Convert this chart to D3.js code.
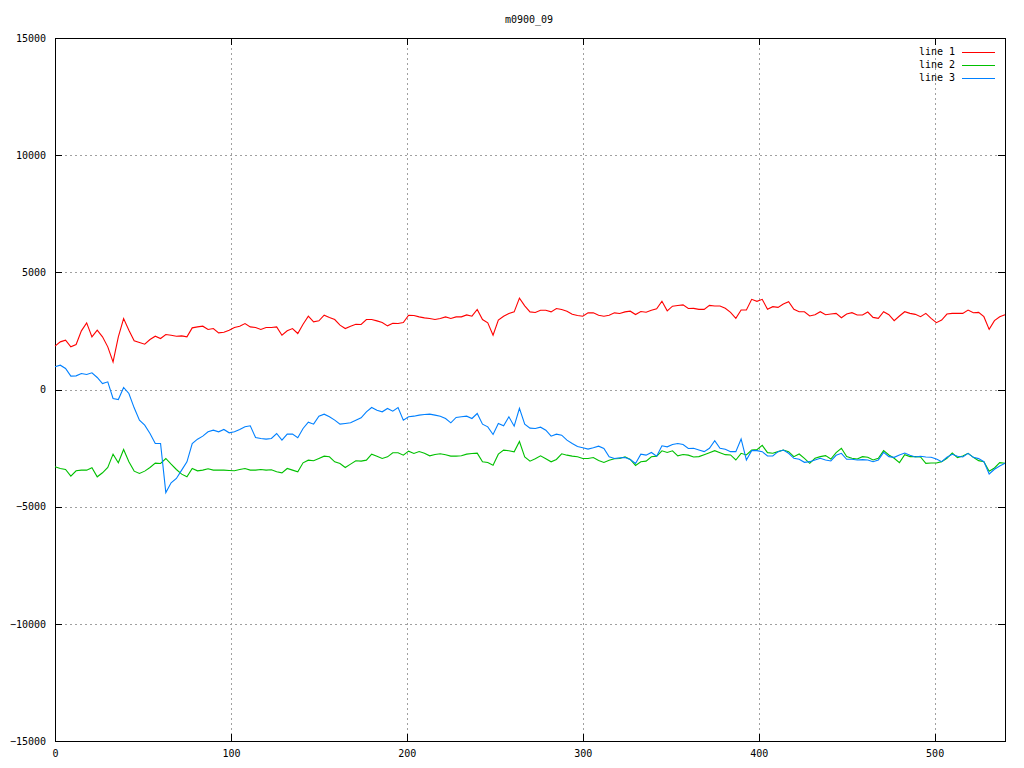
<!DOCTYPE html>
<html>
<head>
<meta charset="utf-8">
<script src="https://cdn.jsdelivr.net/npm/d3@7"></script>
<style>
  html, body { margin: 0; padding: 0; background: #fff; }
  svg { display: block; }
  text { font-family: "DejaVu Sans Mono", monospace; font-size: 10px; fill: #000; }
</style>
</head>
<body>
<svg id="chart" width="1024" height="768"></svg>
<script>
const titleText = "m0900_09";
const seriesNames = ["line 1", "line 2", "line 3"];
const seriesColors = ["#ff0000", "#00c000", "#0080ff"];
const xTicks = [0, 100, 200, 300, 400, 500];
const yTicks = [-15000, -10000, -5000, 0, 5000, 10000, 15000];
const xDomain = [0, 540];
const yDomain = [-15000, 15000];

const xs = [0,3,6,9,12,15,18,21,24,27,30,33,36,39,42,45,48,51,54,57,60,63,66,69,72,75,78,81,84,87,90,93,96,99,102,105,108,111,114,117,120,123,126,129,132,135,138,141,144,147,150,153,156,159,162,165,168,171,174,177,180,183,186,189,192,195,198,201,204,207,210,213,216,219,222,225,228,231,234,237,240,243,246,249,252,255,258,261,264,267,270,273,276,279,282,285,288,291,294,297,300,303,306,309,312,315,318,321,324,327,330,333,336,339,342,345,348,351,354,357,360,363,366,369,372,375,378,381,384,387,390,393,396,399,402,405,408,411,414,417,420,423,426,429,432,435,438,441,444,447,450,453,456,459,462,465,468,471,474,477,480,483,486,489,492,495,498,501,504,507,510,513,516,519,522,525,528,531,534,537,540];

const line1 = [1849,2033,2105,1820,1920,2503,2844,2247,2531,2247,1820,
1180,2247,3029,2531,2076,2005,1934,2133,2275,2176,
2346,2318,2275,2289,2247,2631,2673,2702,2560,2602,
2417,2446,2531,2645,2702,2816,2673,2645,2560,2645,
2645,2673,2318,2503,2602,2389,2787,3128,2887,2929,
3171,3071,2986,2745,2602,2702,2787,2773,2986,2986,
2929,2858,2716,2830,2816,2858,3171,3157,3100,3057,
3029,2986,3029,3100,3029,3100,3100,3185,3128,3413,
2986,2844,2318,2958,3128,3242,3313,3900,3569,3313,
3285,3384,3384,3313,3455,3413,3342,3214,3157,3128,
3271,3271,3171,3128,3171,3271,3242,3313,3342,3200,
3327,3299,3384,3441,3768,3356,3555,3583,3612,3455,
3463,3420,3420,3591,3562,3562,3463,3292,3036,3392,
3392,3847,3761,3847,3420,3534,3505,3648,3747,3420,3321,
3320,3136,3192,3320,3192,3221,3249,3064,3221,
3278,3178,3178,3306,3078,3036,3320,3192,2937,3136,
3320,3249,3207,3107,3249,3036,2851,2965,3221,3249,
3249,3249,3392,3278,3292,3107,2567,2937,3107,3192];

const line2 = [-3299,-3370,-3413,-3697,-3470,-3441,-3441,-3342,-3726,-3555,-3327,
-2759,-3128,-2560,-3086,-3484,-3583,-3484,-3327,-3143,-3157,
-2944,-3185,-3413,-3612,-3726,-3370,-3470,-3441,-3384,-3441,
-3441,-3441,-3455,-3470,-3413,-3370,-3441,-3441,-3413,-3441,
-3427,-3512,-3555,-3370,-3441,-3512,-3128,-3015,-3043,-2944,
-2844,-2873,-3086,-3157,-3327,-3185,-3043,-3057,-3015,-2759,
-2844,-2944,-2873,-2702,-2702,-2802,-2631,-2731,-2645,-2716,
-2830,-2773,-2745,-2787,-2844,-2844,-2830,-2759,-2731,-2716,
-3086,-3114,-3228,-2759,-2588,-2617,-2660,-2218,-2873,-3057,
-2958,-2830,-2958,-3086,-2986,-2745,-2802,-2844,-2873,-2944,
-2944,-2901,-3029,-3114,-3015,-2958,-2944,-2873,-2986,-3242,
-3086,-3057,-2873,-2844,-2617,-2688,-2617,-2830,-2773,-2802,
-2880,-2865,-2780,-2695,-2609,-2695,-2780,-2794,-3008,-2723,
-2794,-2581,-2567,-2382,-2695,-2723,-2652,-2581,-2652,-2865,-2751,
-2936,-3150,-2936,-2865,-2823,-2965,-2695,-2510,-2865,
-2936,-2965,-2865,-2894,-3008,-2936,-2609,-2794,-2936,-3122,
-2780,-2865,-2865,-2880,-3150,-3136,-3136,-3079,-2936,-2709,
-2908,-2837,-2723,-2894,-3036,-3079,-3491,-3349,-3122,-3150];

const line3 = [967,1038,896,569,583,683,640,711,512,256,327,
-384,-427,85,-171,-782,-1308,-1522,-1877,-2304,-2304,
-4400,-3982,-3797,-3441,-3086,-2304,-2119,-1991,-1806,-1735,
-1806,-1706,-1849,-1806,-1706,-1593,-1550,-2048,-2090,-2119,
-2090,-1877,-2161,-1906,-1906,-2062,-1664,-1394,-1479,-1138,
-1052,-1166,-1308,-1479,-1450,-1422,-1308,-1209,-953,-768,
-882,-953,-811,-924,-768,-1308,-1166,-1138,-1095,-1067,
-1052,-1095,-1138,-1237,-1422,-1194,-1166,-1138,-1237,-1024,
-1479,-1593,-1920,-1450,-1550,-1166,-1564,-800,-1479,-1650,
-1664,-1607,-1735,-1991,-1906,-1948,-2161,-2304,-2432,-2489,
-2545,-2489,-2417,-2517,-2872,-2944,-2915,-2901,-2986,-3157,
-2759,-2802,-2688,-2844,-2403,-2446,-2346,-2304,-2346,-2517,
-2510,-2581,-2652,-2510,-2183,-2510,-2552,-2652,-2652,-2110,
-3008,-2609,-2609,-2652,-2837,-2837,-2652,-2581,-2723,-2936,-2979,
-3107,-3079,-3008,-2936,-3008,-3050,-2808,-2723,-2979,
-2979,-3008,-2993,-3008,-3079,-3008,-2681,-2865,-2894,-2794,
-2709,-2808,-2880,-2851,-2880,-2894,-2965,-3079,-2894,-2766,
-2851,-2880,-2723,-2894,-2950,-3079,-3605,-3406,-3264,-3150];

const allSeries = [line1, line2, line3];

const svg = d3.select("#chart");
const mLeft = 55, mRight = 1005, mTop = 38, mBottom = 741;
const x = d3.scaleLinear().domain(xDomain).range([mLeft, mRight]);
const y = d3.scaleLinear().domain(yDomain).range([mBottom, mTop]);

// grid
const grid = svg.append("g").attr("stroke", "#a0a0a0").attr("stroke-dasharray", "2,3").attr("shape-rendering", "crispEdges");
grid.selectAll("line.gx").data(xTicks.filter(v => v > xDomain[0] && v < xDomain[1])).enter().append("line")
  .attr("x1", d => Math.round(x(d)) + 0.5).attr("x2", d => Math.round(x(d)) + 0.5)
  .attr("y1", mTop).attr("y2", mBottom);
grid.selectAll("line.gy").data(yTicks.filter(v => v > yDomain[0] && v < yDomain[1])).enter().append("line")
  .attr("y1", d => Math.round(y(d)) + 0.5).attr("y2", d => Math.round(y(d)) + 0.5)
  .attr("x1", mLeft).attr("x2", mRight);

// axes
function styleAxis(g) {
  g.select(".domain").remove();
  g.selectAll(".tick line").attr("stroke", "#000").attr("shape-rendering", "crispEdges");
  g.selectAll(".tick text").style("font-family", "'DejaVu Sans Mono', monospace").style("font-size", "10px").attr("fill", "#000");
}
svg.append("g").attr("transform", `translate(0,${mBottom})`)
  .call(d3.axisBottom(x).tickValues(xTicks).tickSize(-7).tickPadding(9).tickFormat(d3.format("d")))
  .call(styleAxis);
svg.append("g").attr("transform", `translate(0,${mTop})`)
  .call(d3.axisTop(x).tickValues(xTicks).tickSize(-7).tickFormat(""))
  .call(styleAxis);
svg.append("g").attr("transform", `translate(${mLeft},0)`)
  .call(d3.axisLeft(y).tickValues(yTicks).tickSize(-7).tickPadding(9).tickFormat(d3.format("d")))
  .call(styleAxis);
svg.append("g").attr("transform", `translate(${mRight},0)`)
  .call(d3.axisRight(y).tickValues(yTicks).tickSize(-7).tickFormat(""))
  .call(styleAxis);

// border
svg.append("rect").attr("x", mLeft + 0.5).attr("y", mTop + 0.5)
  .attr("width", mRight - mLeft).attr("height", mBottom - mTop)
  .attr("fill", "none").attr("stroke", "#000").attr("shape-rendering", "crispEdges");

// lines
const lineGen = d3.line().x((d, i) => x(xs[i])).y(d => y(d));
allSeries.forEach((s, i) => {
  svg.append("path").datum(s).attr("d", lineGen)
    .attr("fill", "none").attr("stroke", seriesColors[i]).attr("stroke-width", 1.1);
});

// title
svg.append("text").attr("x", 529).attr("y", 20).attr("text-anchor", "middle")
  .attr("dominant-baseline", "middle").text(titleText);

// legend
seriesNames.forEach((name, i) => {
  const ly = 52 + i * 13;
  svg.append("text").attr("x", 955).attr("y", ly).attr("text-anchor", "end")
    .attr("dominant-baseline", "middle").text(name);
  svg.append("line").attr("x1", 962).attr("x2", 995).attr("y1", ly + 0.5).attr("y2", ly + 0.5)
    .attr("stroke", seriesColors[i]).attr("stroke-width", 1).attr("shape-rendering", "crispEdges");
});
</script>
</body>
</html>
